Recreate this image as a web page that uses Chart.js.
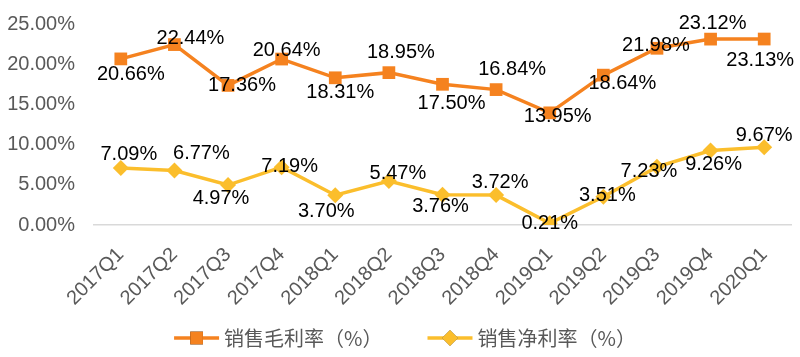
<!DOCTYPE html>
<html>
<head>
<meta charset="utf-8">
<script src="https://cdn.jsdelivr.net/npm/chart.js@4/dist/chart.umd.min.js"></script>
<style>
html,body{margin:0;padding:0;background:#fff;}
#wrap{width:800px;height:357px;position:relative;}
</style>
</head>
<body>
<div id="wrap"><canvas id="c"></canvas></div>
<script>
// ---- data ----
const categories = ['2017Q1','2017Q2','2017Q3','2017Q4','2018Q1','2018Q2','2018Q3','2018Q4','2019Q1','2019Q2','2019Q3','2019Q4','2020Q1'];
const grossMargin = [20.66,22.44,17.36,20.64,18.31,18.95,17.50,16.84,13.95,18.64,21.98,23.12,23.13];
const netMargin = [7.09,6.77,4.97,7.19,3.70,5.47,3.76,3.72,0.21,3.51,7.23,9.26,9.67];
const seriesNames = ['销售毛利率（%）','销售净利率（%）'];
const yTicks = [0,5,10,15,20,25];

// ---- label placement (pixel offsets from each point) ----
const grossLabelDx = [10,16,14,5,5,12,9,16,8,19,-1,2,-4];
const grossLabelDy = [16,-6,0,-9,15,-20,19,-20,4,8,-3,-16,21];
const netLabelDx = [8,27,-7,8,-9,9,-2,4,0,4,-8,3,0];
const netLabelDy = [-14,-17,13,-1,16,-8,12,-13,0,-1,5,14,-12];

const ORANGE = '#F5821F';
const YELLOW = '#FBBE2C';

const labelPlugin = {
  id: 'pointLabels',
  afterDatasetsDraw(chart) {
    const ctx = chart.ctx;
    ctx.save();
    ctx.font = '20px "Liberation Sans", Arial, sans-serif';
    ctx.fillStyle = '#000000';
    ctx.textAlign = 'center';
    ctx.textBaseline = 'middle';
    chart.data.datasets.forEach((ds, di) => {
      const meta = chart.getDatasetMeta(di);
      meta.data.forEach((pt, i) => {
        const v = ds.data[i];
        ctx.fillText(v.toFixed(2) + '%', pt.x + ds.labelDx[i], pt.y + ds.labelDy[i]);
      });
    });
    ctx.restore();
  }
};

const legendPlugin = {
  id: 'lineLegend',
  afterDraw(chart) {
    const ctx = chart.ctx;
    ctx.save();
    ctx.font = '20px "Noto Sans CJK SC", sans-serif';
    const lineW = 45, gapText = 5, gapItem = 45;
    const items = chart.data.datasets.map(ds => ({ds, tw: ctx.measureText(ds.label).width}));
    let total = 0;
    items.forEach((it, i) => { total += lineW + gapText + it.tw + (i ? gapItem : 0); });
    let x = 405 - total / 2;
    const y = 338;
    items.forEach((it, i) => {
      if (i) x += gapItem;
      const ds = it.ds;
      ctx.strokeStyle = ds.borderColor;
      ctx.lineWidth = 3.5;
      ctx.beginPath();
      ctx.moveTo(x, y); ctx.lineTo(x + lineW, y);
      ctx.stroke();
      Chart.helpers.drawPoint(ctx, {pointStyle: ds.pointStyle, radius: ds.pointRadius, borderWidth: 0}, x + lineW / 2, y);
      ctx.fillStyle = ds.backgroundColor;
      ctx.fill();
      ctx.fillStyle = '#595959';
      ctx.textAlign = 'left';
      ctx.textBaseline = 'middle';
      ctx.fillText(ds.label, x + lineW + gapText, y);
      x += lineW + gapText + it.tw;
    });
    ctx.restore();
  }
};

new Chart(document.getElementById('c'), {
  type: 'line',
  data: {
    labels: categories,
    datasets: [
      {
        label: seriesNames[0], data: grossMargin,
        borderColor: ORANGE, backgroundColor: ORANGE,
        borderWidth: 3.5, pointStyle: 'rect', pointRadius: 9,
        pointBorderWidth: 0, tension: 0,
        labelDx: grossLabelDx, labelDy: grossLabelDy
      },
      {
        label: seriesNames[1], data: netMargin,
        borderColor: YELLOW, backgroundColor: YELLOW,
        borderWidth: 3.5, pointStyle: 'rectRot', pointRadius: 8,
        pointBorderWidth: 0, tension: 0,
        labelDx: netLabelDx, labelDy: netLabelDy
      }
    ]
  },
  options: {
    responsive: true,
    maintainAspectRatio: false,
    animation: false,
    layout: { padding: { top: 24, right: 7, left: 0, bottom: 0 } },
    plugins: { legend: { display: false }, tooltip: { enabled: false } },
    scales: {
      x: {
        offset: true,
        grid: { display: false, drawTicks: false },
        border: { display: true, color: '#D9D9D9', width: 1.5 },
        ticks: {
          color: '#595959', maxRotation: 45, minRotation: 45, padding: 18, autoSkip: false,
          font: { family: '"Liberation Sans", Arial, sans-serif', size: 20 }
        },
        afterFit(scale) { scale.height = 132; scale.paddingLeft = 0; scale.paddingRight = 0; }
      },
      y: {
        min: 0, max: 25,
        afterBuildTicks(scale) { scale.ticks = yTicks.map(v => ({value: v})); },
        grid: { display: false, drawTicks: false },
        border: { display: false },
        ticks: {
          color: '#595959', padding: 19,
          font: { family: '"Liberation Sans", Arial, sans-serif', size: 20 },
          callback: v => v.toFixed(2) + '%'
        },
        afterFit(scale) { scale.width = 94; scale.paddingTop = 0; scale.paddingBottom = 0; }
      }
    }
  },
  plugins: [labelPlugin, legendPlugin]
});
</script>
</body>
</html>
